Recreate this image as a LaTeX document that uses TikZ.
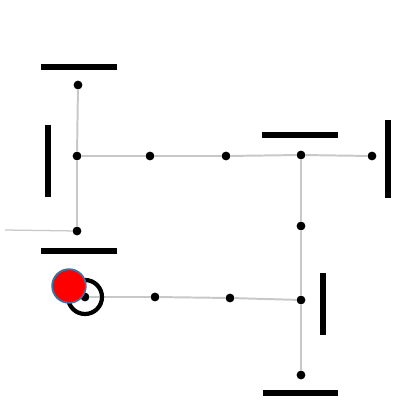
\documentclass[tikz,border=0pt]{standalone}
\usepackage{xcolor}
\usepackage{tikz}

\definecolor{wire}{RGB}{200,200,200}
\definecolor{rim}{RGB}{65,113,156}

\begin{document}
\begin{tikzpicture}[x=0.025cm,y=-0.025cm,
    pin/.style={circle,fill=black,inner sep=0pt,minimum size=0.22cm},
    wire/.style={draw=wire,line width=1.4pt},
    bar/.style={line width=3.6pt}]
          \useasboundingbox (0,0) rectangle (396,412);
          % dots
          \node[pin] (top) at (78,85) {};
          \node[pin] (left) at (77,156) {};
          \node[pin] (c1) at (150,156) {};
          \node[pin] (c2) at (226,156) {};
          \node[pin] (right) at (301,155) {};
          \node[pin] (far) at (372,156) {};
          \node[pin] (low) at (77,231) {};
          \node[pin] (d1) at (301,226) {};
          \node[pin] (d2) at (301,300) {};
          \node[pin] (bot) at (301,375) {};
          \node[pin] (e1) at (230,298) {};
          \node[pin] (e2) at (155,297) {};
          \node[pin] (start) at (85,297) {};
          \coordinate (inlet) at (5,230);
          % wires
          \draw[wire] (top) -- (left) -- (low);
          \draw[wire] (left) -- (c1) -- (c2) -- (right) -- (far);
          \draw[wire] (right) -- (d1) -- (d2) -- (bot);
          \draw[wire] (start) -- (e2) -- (e1) -- (d2);
          \draw[draw=wire,line width=0.9pt] (inlet) -- (low);
          % bars
          \draw[bar] (41,67) -- (117,67);
          \draw[bar] (48,125) -- (48,197);
          \draw[bar] (41,251) -- (117,251);
          \draw[bar] (262,135) -- (338,135);
          \draw[bar] (388,120) -- (388,198);
          \draw[bar] (323,273) -- (323,335);
          \draw[bar] (263,393) -- (338,393);
          % start marker
          \draw[line width=3pt] (start) circle (17);
          \node[circle,fill=red,draw=rim,line width=1.3pt,minimum size=0.84cm,inner sep=0pt] (mark) at (69,286) {};
        \end{tikzpicture}
\end{document}
